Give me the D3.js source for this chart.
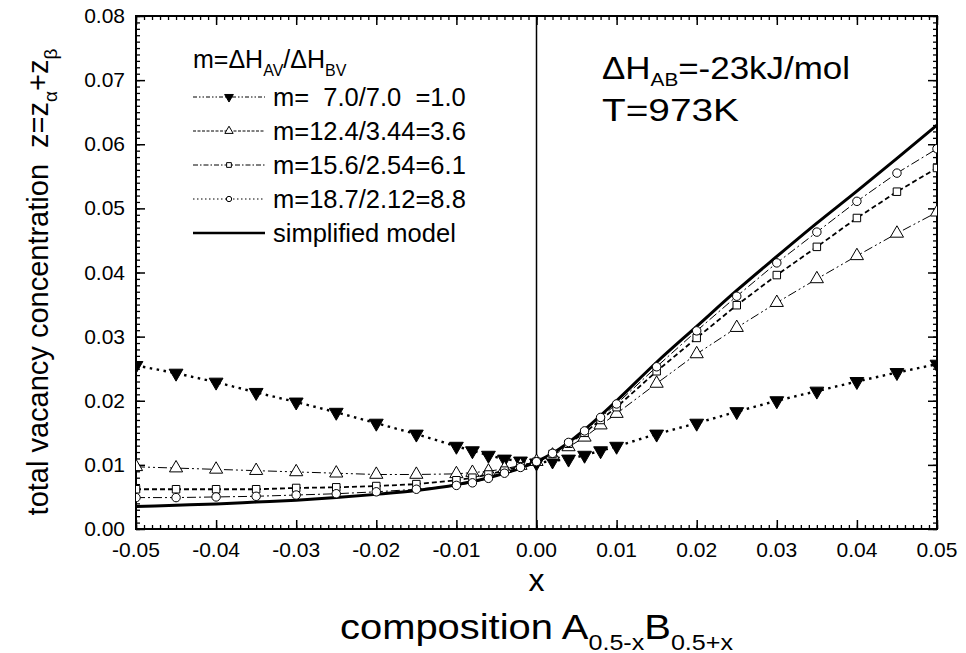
<!DOCTYPE html>
<html>
<head>
<meta charset="utf-8">
<script src="https://cdn.jsdelivr.net/npm/d3@7"></script>
<style>
  body { margin: 0; background: #fff; }
  text { font-family: "Liberation Sans", Arial, sans-serif; fill: #000; }
</style>
</head>
<body>
<div id="chart"></div>
<script>
// Data
var xTicks = [-0.05, -0.04, -0.03, -0.02, -0.01, 0.00, 0.01, 0.02, 0.03, 0.04, 0.05];
var yTicks = [0.00, 0.01, 0.02, 0.03, 0.04, 0.05, 0.06, 0.07, 0.08];

var xs = [-0.05, -0.045, -0.04, -0.035, -0.03, -0.025, -0.02, -0.015, -0.01, -0.008, -0.006, -0.004, -0.002,
          0, 0.002, 0.004, 0.006, 0.008, 0.01, 0.015, 0.02, 0.025, 0.03, 0.035, 0.04, 0.045, 0.05];

var m10 = [0.0255, 0.0243, 0.0229, 0.0213, 0.0198, 0.0182, 0.0165, 0.0148, 0.0129, 0.0122, 0.0115, 0.0109, 0.0106,
           0.0103, 0.0106, 0.0109, 0.0115, 0.0122, 0.0129, 0.0148, 0.0165, 0.0183, 0.0200, 0.0215, 0.0230, 0.0244, 0.0257];
var m36 = [0.0097, 0.0095, 0.0093, 0.0091, 0.0089, 0.0087, 0.0085, 0.0085, 0.0086, 0.0088, 0.0090, 0.0094, 0.0099,
           0.0105, 0.0115, 0.0128, 0.0143, 0.0162, 0.0180, 0.0227, 0.0273, 0.0314, 0.0353, 0.0390, 0.0426, 0.0461, 0.0494];
var m61 = [0.0062, 0.0062, 0.0062, 0.0062, 0.0064, 0.0065, 0.0067, 0.0070, 0.0076, 0.0080, 0.0085, 0.0091, 0.0098,
           0.0105, 0.0117, 0.0133, 0.0150, 0.0170, 0.0190, 0.0246, 0.0298, 0.0349, 0.0396, 0.0440, 0.0485, 0.0526, 0.0563];
var m88 = [0.0049, 0.0049, 0.0050, 0.0051, 0.0053, 0.0055, 0.0058, 0.0062, 0.0068, 0.0072, 0.0079, 0.0087, 0.0096,
           0.0105, 0.0118, 0.0135, 0.0153, 0.0174, 0.0195, 0.0253, 0.0309, 0.0363, 0.0415, 0.0463, 0.0511, 0.0555, 0.0593];
var simple = [0.0035, 0.0037, 0.0039, 0.0042, 0.0045, 0.0049, 0.0054, 0.0060, 0.0069, 0.0074, 0.0080, 0.0087, 0.0095,
              0.0105, 0.0118, 0.0135, 0.0155, 0.0177, 0.0200, 0.0260, 0.0316, 0.0372, 0.0425, 0.0477, 0.0527, 0.0578, 0.0630];

var legendLabels = ["m=  7.0/7.0  =1.0", "m=12.4/3.44=3.6", "m=15.6/2.54=6.1", "m=18.7/2.12=8.8", "simplified model"];

var series = [
  {values: m10, symbol: "down", dash: "2.5,4.5", width: 2.4, legendDash: "4,2,1.5,2,1.5,2"},
  {values: m36, symbol: "up", dash: "9,3,2,3,2,3", width: 1, legendDash: "3,1.5"},
  {values: m61, symbol: "square", dash: "5,3", width: 1.8, legendDash: "5,2,1.5,2"},
  {values: m88, symbol: "circle", dash: "9,3,2,3", width: 1, legendDash: "1.5,2.5"},
  {values: simple, symbol: null, dash: null, width: 3, legendDash: null}
];

// SVG drawing area
var W = 966, H = 653;
var margin = {top: 16, right: 29, bottom: 124, left: 136};
var width = W - margin.left - margin.right,
    height = H - margin.top - margin.bottom;

var svg = d3.select("#chart").append("svg")
    .attr("width", W)
    .attr("height", H);

var g = svg.append("g")
    .attr("transform", "translate(" + margin.left + "," + margin.top + ")");

// Scales
var x = d3.scaleLinear().domain([-0.05, 0.05]).range([0, width]);
var y = d3.scaleLinear().domain([0, 0.08]).range([height, 0]);

g.append("clipPath").attr("id", "clip")
  .append("rect").attr("width", width).attr("height", height);

// Ticks, inward on all four sides
var minorX = d3.range(-50, 51).map(function(d) { return d / 1000; });
var minorY = d3.range(0, 81).map(function(d) { return d / 1000; });

function drawAxis(axis, offset, major, minor) {
  var a = g.append("g").attr("transform", offset);
  a.call(axis.tickValues(minor).tickSize(4).tickFormat(""));
  a.select(".domain").remove();
  a.selectAll("line").attr("stroke-width", 1.3);
  var b = g.append("g").attr("transform", offset);
  b.call(axis.tickValues(major).tickSize(9).tickFormat(""));
  b.select(".domain").remove();
  b.selectAll("line").attr("stroke-width", 1.5);
}
drawAxis(d3.axisTop(x), "translate(0," + height + ")", xTicks, minorX);
drawAxis(d3.axisBottom(x), "translate(0,0)", xTicks, minorX);
drawAxis(d3.axisRight(y), "translate(0,0)", yTicks, minorY);
drawAxis(d3.axisLeft(y), "translate(" + width + ",0)", yTicks, minorY);

g.append("rect")
  .attr("width", width).attr("height", height)
  .attr("fill", "none").attr("stroke", "#000").attr("stroke-width", 2);

// Tick labels
g.selectAll(".xlab").data(xTicks).enter().append("text")
  .attr("x", function(d) { return x(d); })
  .attr("y", height + 28)
  .attr("text-anchor", "middle")
  .style("font-size", "21px")
  .text(function(d) { return d3.format(".2f")(d).replace("−", "-"); });

g.selectAll(".ylab").data(yTicks).enter().append("text")
  .attr("x", -11)
  .attr("y", function(d) { return y(d) + 7; })
  .attr("text-anchor", "end")
  .style("font-size", "21px")
  .text(function(d) { return d3.format(".2f")(d); });

// Vertical line at x = 0
g.append("line")
  .attr("x1", x(0)).attr("x2", x(0))
  .attr("y1", 0).attr("y2", height)
  .attr("stroke", "#000").attr("stroke-width", 1.5);

// text with subscripts: parts = [[string, isSub], ...]
function richText(sel, parts, size, subSize, drop) {
  subSize = subSize || Math.round(size * 0.6);
  drop = drop || size * 0.3;
  parts.forEach(function(p, i) {
    var prev = i > 0 ? parts[i - 1][1] : false;
    var t = sel.append("tspan").text(p[0]);
    if (p[1]) t.style("font-size", subSize + "px").attr("dy", prev ? 0 : drop);
    else if (prev) t.attr("dy", -drop);
  });
  return sel;
}

// Series
var line = d3.line()
  .x(function(d) { return x(d[0]); })
  .y(function(d) { return y(d[1]); });

var plot = g.append("g").attr("clip-path", "url(#clip)");

series.forEach(function(s) {
  var pts = xs.map(function(v, i) { return [v, s.values[i]]; });
  line.curve(s.symbol ? d3.curveLinear : d3.curveMonotoneX);
  plot.append("path")
    .attr("d", line(pts))
    .attr("fill", "none")
    .attr("stroke", "#000")
    .attr("stroke-width", s.width)
    .attr("stroke-dasharray", s.dash);
});

function symbolPath(type, size) {
  if (type == "down") return d3.symbol().type(d3.symbolTriangle).size(size * 1.1)();
  if (type == "up") return d3.symbol().type(d3.symbolTriangle).size(size)();
  if (type == "square") return d3.symbol().type(d3.symbolSquare).size(size * 0.75)();
  return d3.symbol().type(d3.symbolCircle).size(size * 0.75)();
}

function drawMarker(sel, type, cx, cy, size) {
  sel.append("path")
    .attr("d", symbolPath(type, size))
    .attr("transform", "translate(" + cx + "," + cy + ")" + (type == "down" ? " rotate(180)" : ""))
    .attr("fill", type == "down" ? "#000" : "#fff")
    .attr("stroke", "#000")
    .attr("stroke-width", 1);
}

series.forEach(function(s) {
  if (!s.symbol) return;
  xs.forEach(function(v, i) {
    drawMarker(plot, s.symbol, x(v), y(s.values[i]), 75);
  });
});

// Legend
var legend = g.append("g").attr("transform", "translate(57,0)");
richText(legend.append("text").attr("x", 0).attr("y", 52).style("font-size", "25px"),
  [["m=\u0394H", false], ["AV", true], ["/\u0394H", false], ["BV", true]], 25, 16);

series.forEach(function(s, i) {
  var cy = 81 + i * 34;
  legend.append("line")
    .attr("x1", 0).attr("x2", 72)
    .attr("y1", cy).attr("y2", cy)
    .attr("stroke", "#000")
    .attr("stroke-width", s.symbol ? 1 : 2.5)
    .attr("stroke-dasharray", s.legendDash);
  if (s.symbol) drawMarker(legend, s.symbol, 36, cy, 30);
  legend.append("text")
    .attr("x", 80).attr("y", cy + 9)
    .attr("xml:space", "preserve")
    .style("white-space", "pre")
    .style("font-size", "25.5px")
    .text(legendLabels[i]);
});

// Annotation
richText(g.append("text").attr("x", 466).attr("y", 63).style("font-size", "32px")
    .attr("textLength", 248).attr("lengthAdjust", "spacingAndGlyphs"),
  [["\u0394H", false], ["AB", true], ["=-23kJ/mol", false]], 32, 19, 7);
g.append("text").attr("x", 466).attr("y", 105).style("font-size", "32px")
  .attr("textLength", 137).attr("lengthAdjust", "spacingAndGlyphs")
  .text("T=973K");

// Axis titles
svg.append("text")
  .attr("x", margin.left + width / 2).attr("y", 591)
  .attr("text-anchor", "middle")
  .style("font-size", "32px")
  .text("x");

richText(svg.append("text").attr("x", 340).attr("y", 639)
    .style("font-size", "35px")
    .attr("textLength", 393).attr("lengthAdjust", "spacingAndGlyphs"),
  [["composition A", false], ["0.5-x", true], ["B", false], ["0.5+x", true]], 35, 22);

richText(svg.append("text")
    .attr("transform", "translate(48,282)rotate(-90)")
    .attr("text-anchor", "middle")
    .attr("xml:space", "preserve")
    .style("white-space", "pre")
    .style("font-size", "29px"),
  [["total vacancy concentration  z=z", false], ["\u03b1", true], ["+z", false], ["\u03b2", true]], 29, 19);
</script>
</body>
</html>
